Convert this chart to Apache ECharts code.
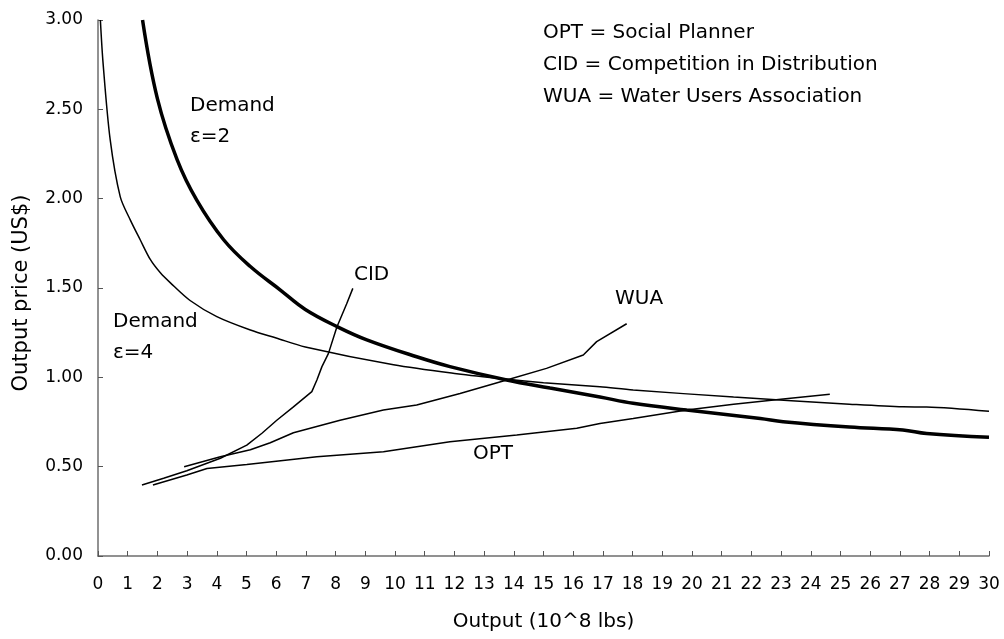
<!DOCTYPE html>
<html>
<head>
<meta charset="utf-8">
<script src="https://cdn.jsdelivr.net/npm/echarts@6/dist/echarts.min.js"></script>
<style>
html,body{margin:0;padding:0;background:#fff;}
#chart{width:1004px;height:639px;}
</style>
</head>
<body>
<div id="chart"></div>
<script>
// Data: [output, price]
const demandE2 = [[1.5,3.0],[2.0,2.56],[2.66,2.22],[3.33,1.99],[4.23,1.77],[5.13,1.62],[6.13,1.49],[6.98,1.38],[8.1,1.28],[9.05,1.21],[10.73,1.115],[11.85,1.06],[13.76,0.985],[15.22,0.94],[16.9,0.89],[18.02,0.855],[19.82,0.817],[22.3,0.77],[23.07,0.752],[25.3,0.722],[27.1,0.705],[27.9,0.685],[30,0.664]];
const demandE4 = [[0.08,3.0],[0.17,2.76],[0.41,2.33],[0.75,2.01],[1.09,1.88],[1.42,1.77],[1.76,1.66],[2.1,1.585],[2.43,1.53],[3.1,1.43],[4.0,1.34],[5.13,1.265],[6.0,1.22],[6.98,1.17],[9.95,1.07],[12.08,1.02],[13.7,0.99],[15.0,0.97],[16.9,0.947],[18.02,0.929],[21.4,0.89],[25.3,0.85],[27.1,0.835],[27.9,0.834],[30,0.81]];
const cid = [[1.48,0.397],[2.21,0.435],[2.99,0.477],[4.12,0.547],[5.01,0.621],[5.52,0.687],[6.02,0.76],[6.58,0.835],[7.2,0.92],[7.37,0.985],[7.54,1.06],[7.76,1.134],[8.04,1.28],[8.37,1.41],[8.58,1.498]];
const opt = [[1.85,0.397],[2.99,0.453],[3.67,0.49],[5.01,0.512],[7.37,0.556],[9.61,0.584],[10.73,0.612],[11.85,0.64],[14.1,0.677],[16.12,0.715],[16.9,0.742],[18.02,0.77],[19.82,0.817],[21.4,0.85],[23.07,0.879],[24.64,0.905]];
const wua = [[2.9,0.50],[4.12,0.556],[5.13,0.595],[5.8,0.634],[6.58,0.69],[8.15,0.76],[9.61,0.817],[10.73,0.845],[12.19,0.91],[13.76,0.985],[15.1,1.05],[16.34,1.125],[16.79,1.2],[17.8,1.30]];

const xTitle = 'Output (10^8 lbs)';
const yTitle = 'Output price (US$)';
const notes = ['OPT = Social Planner','CID = Competition in Distribution','WUA = Water Users Association'];

const FONT = '"DejaVu Sans", "Liberation Sans", sans-serif';
const chart = echarts.init(document.getElementById('chart'), null, {renderer:'canvas'});

function lineSeries(name, data, width, smooth){
  return {name, type:'line', data, symbol:'none', smooth: smooth, clip:true,
    lineStyle:{color:'#000', width:width}, emphasis:{disabled:true}};
}
function txt(x, y, text, size){
  return {type:'text', x, y, style:{text, fill:'#000', fontSize:size || 20, fontFamily:FONT, verticalAlign:'middle', align:'left'}};
}

chart.setOption({
  animation:false,
  backgroundColor:'#fff',
  grid:{left:98, right:15, top:20, bottom:83, containLabel:false},
  xAxis:{type:'value', min:0, max:30, interval:1,
    name:xTitle, nameLocation:'middle', nameGap:56,
    nameTextStyle:{color:'#000', fontSize:20, fontFamily:FONT},
    axisLine:{lineStyle:{color:'#6e6e6e', width:1.5}},
    axisTick:{inside:true, length:5, lineStyle:{color:'#555', width:1}},
    axisLabel:{color:'#000', fontSize:17, fontFamily:FONT, margin:20},
    splitLine:{show:false}},
  yAxis:{type:'value', min:0, max:3, interval:0.5,
    axisLine:{show:true, lineStyle:{color:'#6e6e6e', width:1.5}},
    axisTick:{show:true, inside:true, length:5, lineStyle:{color:'#555', width:1}},
    axisLabel:{color:'#000', fontSize:17, fontFamily:FONT, margin:15, formatter:v=>v.toFixed(2)},
    splitLine:{show:false}},
  series:[
    lineSeries('Demand ε=2', demandE2, 3.5, 0.4),
    lineSeries('Demand ε=4', demandE4, 1.5, 0.3),
    lineSeries('CID', cid, 1.5, false),
    lineSeries('OPT', opt, 1.5, false),
    lineSeries('WUA', wua, 1.5, false)
  ],
  graphic:[
    {type:'text', x:22, y:293, rotation:Math.PI/2,
      style:{text:yTitle, fill:'#000', fontSize:21, fontFamily:FONT, align:'center', verticalAlign:'middle'}},
    txt(190, 106, 'Demand'),
    txt(190, 137, 'ε=2'),
    txt(113, 322, 'Demand'),
    txt(113, 353, 'ε=4'),
    txt(354, 275, 'CID'),
    txt(615, 299, 'WUA'),
    txt(473, 454, 'OPT'),
    txt(543, 33, notes[0]),
    txt(543, 65, notes[1]),
    txt(543, 97, notes[2])
  ]
});
</script>
</body>
</html>
